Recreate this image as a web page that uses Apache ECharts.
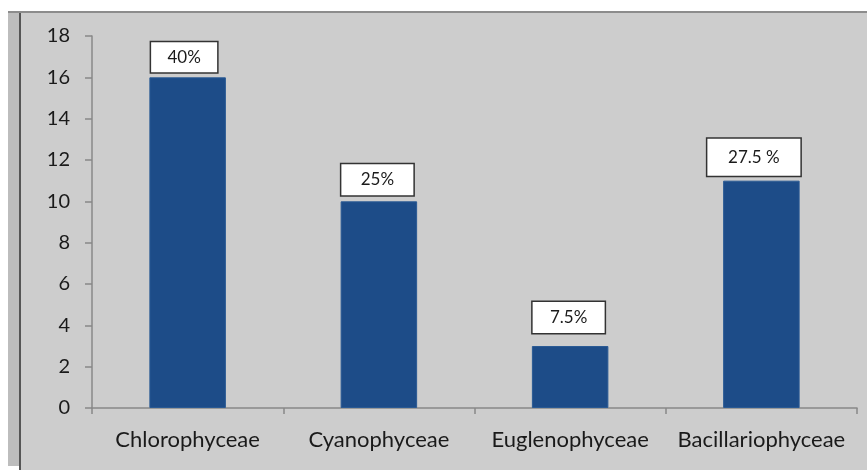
<!DOCTYPE html>
<html><head><meta charset="utf-8">
<script src="https://cdn.jsdelivr.net/npm/echarts@6/dist/echarts.min.js"></script>
<style>html,body{margin:0;padding:0;background:#fff}#c{width:867px;height:470px}</style>
</head><body><div id="c"></div>
<script>
const categories = ["Chlorophyceae", "Cyanophyceae", "Euglenophyceae", "Bacillariophyceae"];
const counts = [16, 10, 3, 11];
const percentLabels = ["40%", "25%", "7.5%", "27.5 %"];
const yTicks = [0, 2, 4, 6, 8, 10, 12, 14, 16, 18];

// label box layout (separate from data)
const boxW = [69, 75, 75, 96];
const boxH = [33, 34, 34, 40];
const boxDist = [5, 6, 13, 5];
const boxDx = [-3.5, -1.5, -1.5, -7.5];

const chart = echarts.init(document.getElementById('c'), null, {renderer: 'canvas'});
const font = 'Lato, "Open Sans", sans-serif';
const LH = 18;
chart.setOption({
  backgroundColor: '#ffffff',
  animation: false,
  graphic: [
    {type: 'rect', shape: {x: 8, y: 12, width: 859, height: 458}, style: {fill: '#cdcdcd'}, z: -10},
    {type: 'rect', shape: {x: 8, y: 12, width: 11, height: 454}, style: {fill: '#bdbdbd'}, z: -9},
    {type: 'rect', shape: {x: 0, y: 466, width: 19, height: 4}, style: {fill: '#ffffff'}, z: -8},
    {type: 'rect', shape: {x: 19, y: 12, width: 2, height: 458}, style: {fill: '#555555'}, z: -8},
    {type: 'rect', shape: {x: 8, y: 11, width: 859, height: 2}, style: {fill: '#8c8c8c'}, z: -8}
  ],
  grid: {left: 92, right: 10, top: 36, bottom: 62},
  xAxis: {
    type: 'category',
    data: categories,
    axisLine: {lineStyle: {color: '#888888', width: 1.5}},
    axisTick: {show: true, alignWithLabel: false, interval: 0, length: 6, lineStyle: {color: '#888888', width: 1.5}},
    axisLabel: {color: '#1a1a1a', fontSize: 22, fontFamily: font, margin: 21, interval: 0}
  },
  yAxis: {
    type: 'value',
    min: yTicks[0],
    max: yTicks[yTicks.length - 1],
    interval: yTicks[1] - yTicks[0],
    splitLine: {show: false},
    axisLine: {show: true, lineStyle: {color: '#888888', width: 1.5}},
    axisTick: {show: true, length: 7, lineStyle: {color: '#888888', width: 1.5}},
    axisLabel: {color: '#1a1a1a', fontSize: 20, fontFamily: font, margin: 22}
  },
  series: [{
    type: 'bar',
    barWidth: '40%',
    itemStyle: {color: '#1d4c88', borderColor: '#2a5a94', borderWidth: 1},
    data: counts.map((v, i) => ({
      value: v,
      label: {
        show: true,
        position: 'top',
        distance: boxDist[i],
        offset: [boxDx[i], 0],
        formatter: percentLabels[i],
        width: boxW[i] - 3,
        lineHeight: LH,
        align: 'center',
        padding: [(boxH[i] - 3 - LH) / 2, 0],
        color: '#1a1a1a',
        fontSize: 17,
        fontFamily: font,
        backgroundColor: '#ffffff',
        borderColor: '#333333',
        borderWidth: 1.5
      }
    }))
  }]
});
</script>
</body></html>
